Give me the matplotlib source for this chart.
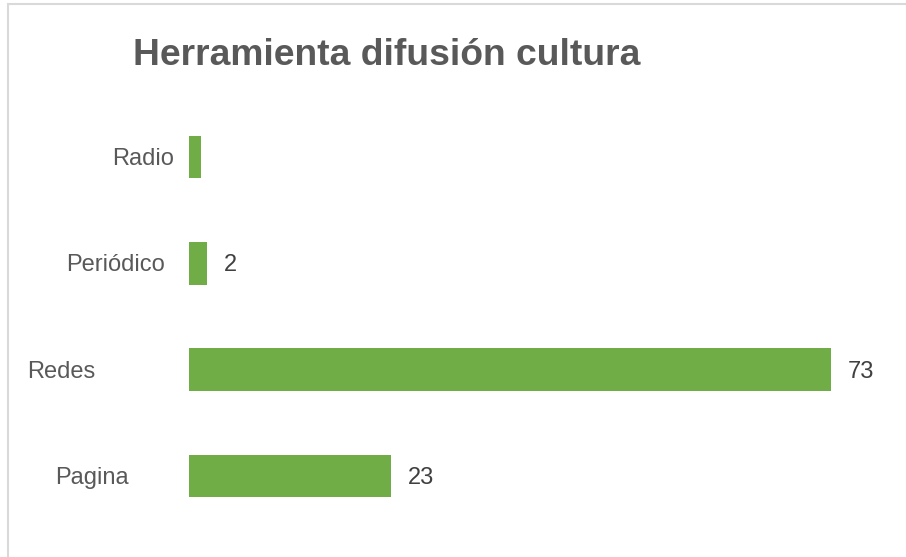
import matplotlib
matplotlib.use("Agg")
import matplotlib.pyplot as plt
from matplotlib.patches import Rectangle
from matplotlib.transforms import blended_transform_factory, offset_copy

# datos
categorias = ["Pagina", "Redes", "Periódico", "Radio"]
valores = [23, 73, 2, 1.4]
etiquetas = ["23", "73", "2", ""]

verde = "#70AD47"
gris = "#595959"

plt.rcParams["font.family"] = ["Liberation Sans", "DejaVu Sans"]

W, H = 906, 557
fig = plt.figure(figsize=(W / 100, H / 100), dpi=100)

# marco del grafico
fig.patches.append(Rectangle((8 / W, -0.1), 1.2, (H - 4) / H + 0.1, transform=fig.transFigure,
                             fill=False, edgecolor="#D9D9D9", linewidth=1.5))

ax = fig.add_axes([189 / W, (H - 529) / H, (892.6 - 189) / W, (529 - 104) / H])
pos = list(range(len(categorias)))
ax.barh(pos, valores, height=0.4, color=verde)
ax.set_xlim(0, 80)
ax.set_ylim(-0.5, len(categorias) - 0.5)
ax.axis("off")

# etiquetas de valor
for p, v, t in zip(pos, valores, etiquetas):
    if t:
        ax.annotate(t, (v, p), xytext=(17, -2), textcoords="offset pixels",
                    ha="left", va="center", fontsize=17, color="#404040")

# etiquetas de categoria (centradas en distinta x, como el original)
centros_x = [91.5, 61, 115.5, 143]
tr = offset_copy(blended_transform_factory(fig.transFigure, ax.transData),
                 fig=fig, y=-2, units="dots")
for p, c, cx in zip(pos, categorias, centros_x):
    ax.text(cx / W, p, c, transform=tr, ha="center", va="center",
            fontsize=17, color=gris)

fig.text(133 / W, (H - 65) / H, "Herramienta difusión cultura",
         fontweight="bold", fontsize=26.8, color=gris, ha="left", va="baseline")

fig.savefig("out.png", dpi=100)
